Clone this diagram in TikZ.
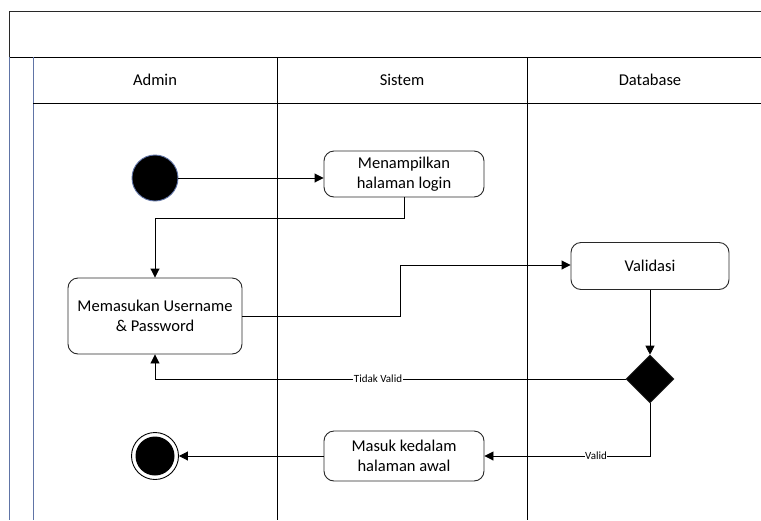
\documentclass[tikz,border=0pt]{standalone}
\usepackage{fontspec}
\setmainfont{Carlito}
\usetikzlibrary{arrows.meta,shapes.geometric}
\definecolor{poolblue}{RGB}{96,116,166}
\definecolor{edge}{RGB}{40,40,40}
\begin{document}
\begin{tikzpicture}[x=1pt,y=-1pt,
  txt/.style={font=\fontsize{16.5}{20}\selectfont, align=center, text=black},
  action/.style={txt, draw=edge, line width=0.9pt, rounded corners=10pt, inner sep=0pt},
  lane/.style={draw=black, line width=0.9pt},
  flow/.style={draw=black, line width=0.9pt, -{Triangle[length=9pt,width=9pt]}},
  flowline/.style={draw=black, line width=0.9pt},
  guard/.style={font=\fontsize{11}{12}\selectfont, fill=white, inner sep=0.5pt, text=black}]
\useasboundingbox (0,0) rectangle (761,520);
\fill[white] (0,0) rectangle (761,520);

% pool frame
\draw[lane, draw=edge] (9,57) -- (9,11) -- (761,11);
\draw[lane] (9,57) -- (761,57);
\draw[line width=0.9pt, draw=poolblue] (9,57) -- (9,520);
\draw[line width=0.9pt, draw=poolblue] (33,57) -- (33,520);
\draw[lane] (33,103) -- (761,103);
\draw[lane] (277,57) -- (277,520);
\draw[lane] (527,57) -- (527,520);

% lane headers
\node[txt] (hAdmin) at (155,80) {Admin};
\node[txt] (hSistem) at (402,80) {Sistem};
\node[txt] (hDb) at (650,80) {Database};

% activity nodes
\node[circle, fill=black, draw=poolblue, line width=0.9pt, minimum size=46pt, inner sep=0pt] (start) at (155,178) {};
\node[action, minimum width=160pt, minimum height=46pt] (tampil) at (404,174) {Menampilkan\\halaman login};
\node[action, minimum width=174pt, minimum height=76pt] (input) at (155,316) {Memasukan Username\\\& Password};
\node[action, minimum width=158pt, minimum height=47pt] (valid) at (650,266) {Validasi};
\node[diamond, fill=black, draw=edge, line width=0.6pt, minimum size=48pt, inner sep=0pt] (cek) at (650,379) {};
\node[action, minimum width=160pt, minimum height=50pt] (masuk) at (404,456) {Masuk kedalam\\halaman awal};
\node[circle, draw=black, line width=0.9pt, fill=white, minimum size=47pt, inner sep=0pt] (end) at (155,456) {};
\node[circle, fill=black, minimum size=39pt, inner sep=0pt] (endDot) at (155,456) {};

% bend points
\coordinate (b1) at (404,218);
\coordinate (b2) at (155,218);
\coordinate (b3) at (400,316);
\coordinate (b4) at (400,265);
\coordinate (b5) at (155,379);
\coordinate (b6) at (650,456);

% connectors
\draw[flow] (start.east) -- (start.east -| tampil.west);
\draw[flow] (tampil.south) -- (b1) -- (b2) -- (input.north);
\draw[flow] (input.east |- b3) -- (b3) -- (b4) -- (b4 -| valid.west);
\draw[flow] (valid.south) -- (cek.north);
\draw[flow] (cek.west) -- (b5) -- (input.south);
\draw[flow] (cek.south) -- (b6) -- (masuk.east);
\draw[flow] (masuk.west) -- (end.east);

% guards
\node[guard] (gNo) at (378,379) {Tidak Valid};
\node[guard] (gYes) at (596,456) {Valid};
\end{tikzpicture}
\end{document}
